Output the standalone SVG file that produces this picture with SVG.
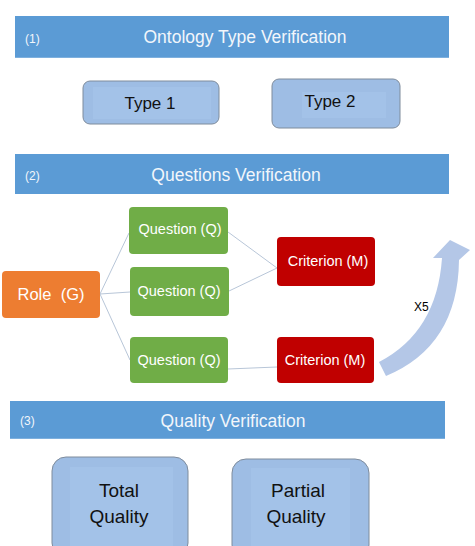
<svg xmlns="http://www.w3.org/2000/svg" width="475" height="546" viewBox="0 0 475 546">
<style>
text{font-family:"Liberation Sans","DejaVu Sans",sans-serif}
.banner{fill:#5b9bd5}
.bline{stroke:#7eb0de;stroke-width:1}
.btitle{fill:#f2f6fb;font-size:17.5px;text-anchor:middle}
.bnum{fill:#f2f6fb;font-size:12px}
.bluebox{fill:#9ebde4;stroke:#7f8c9c;stroke-width:1}
.inner{fill:#a3c2e8}
.dark{fill:#111;font-size:17px;text-anchor:middle}
.q{fill:#70ad47}
.wt{fill:#fff;font-size:14.5px;text-anchor:middle}
.conn{stroke:#b8c6d8;stroke-width:1;fill:none}
</style>
<rect width="475" height="546" fill="#fff"/>
<g id="banner1">
<rect class="banner" x="15" y="16" width="434" height="42"/>
<line class="bline" x1="15" y1="57.5" x2="449" y2="57.5"/>
<text class="bnum" x="25" y="43">(1)</text>
<text class="btitle" x="245" y="43">Ontology Type Verification</text>
</g>
<g id="type1">
<rect class="bluebox" x="83" y="81" width="136" height="43" rx="7"/>
<rect class="inner" x="93" y="87" width="118" height="32"/>
<text class="dark" x="150" y="109">Type 1</text>
</g>
<g id="type2">
<rect class="bluebox" x="272" y="79" width="128" height="49" rx="7"/>
<rect class="inner" x="302" y="92" width="84" height="26"/>
<text class="dark" x="330" y="107">Type 2</text>
</g>
<g id="banner2">
<rect class="banner" x="15" y="154" width="434" height="40"/>
<text class="bnum" x="25" y="180">(2)</text>
<text class="btitle" x="236" y="181">Questions Verification</text>
</g>
<g id="connectors">
<line class="conn" x1="100" y1="294" x2="129" y2="233"/>
<line class="conn" x1="100" y1="294" x2="130" y2="292"/>
<line class="conn" x1="100" y1="294" x2="130" y2="360"/>
<line class="conn" x1="228" y1="232" x2="277" y2="268"/>
<line class="conn" x1="229" y1="291" x2="277" y2="268"/>
<line class="conn" x1="228" y1="369" x2="277" y2="367"/>
</g>
<g id="role">
<rect x="2" y="271" width="98" height="47" rx="4" fill="#ed7d31"/>
<text class="wt" x="51" y="300" xml:space="preserve" style="font-size:16.5px;white-space:pre">Role  (G)</text>
</g>
<g id="question1">
<rect class="q" x="129" y="207" width="99" height="47" rx="4"/>
<text class="wt" x="180" y="234">Question (Q)</text>
</g>
<g id="question2">
<rect class="q" x="130" y="267" width="99" height="49" rx="4"/>
<text class="wt" x="179" y="296">Question (Q)</text>
</g>
<g id="question3">
<rect class="q" x="130" y="337" width="98" height="46" rx="4"/>
<text class="wt" x="179" y="365">Question (Q)</text>
</g>
<g id="criterion1">
<rect x="277" y="237" width="98" height="49" rx="4" fill="#c00000"/>
<text class="wt" x="328" y="266">Criterion (M)</text>
</g>
<g id="criterion2">
<rect x="277" y="337" width="97" height="46" rx="4" fill="#c00000"/>
<text class="wt" x="325" y="365">Criterion (M)</text>
</g>
<g id="repeat-arrow">
<path d="M379 362 Q437 332 442 258 L433 258 L450 240 L470 250 L459 260 Q458 346 386 376 Z" fill="#b4c7e7"/>
<text x="414" y="311" style="font-size:12px;fill:#000">X5</text>
</g>
<g id="banner3">
<rect class="banner" x="10" y="401" width="435" height="38"/>
<line class="bline" x1="10" y1="438.5" x2="445" y2="438.5"/>
<text class="bnum" x="20" y="425">(3)</text>
<text class="btitle" x="233" y="427">Quality Verification</text>
</g>
<g id="total-quality">
<rect class="bluebox" x="52" y="457" width="136" height="100" rx="14"/>
<rect class="inner" x="70" y="467" width="103" height="79"/>
<text class="dark" x="119" y="497" style="font-size:19px">Total</text>
<text class="dark" x="119" y="523" style="font-size:19px">Quality</text>
</g>
<g id="partial-quality">
<rect class="bluebox" x="232" y="459" width="137" height="100" rx="14"/>
<rect class="inner" x="251" y="468" width="99" height="79"/>
<text class="dark" x="298" y="497" style="font-size:19px">Partial</text>
<text class="dark" x="296" y="523" style="font-size:19px">Quality</text>
</g>
</svg>
